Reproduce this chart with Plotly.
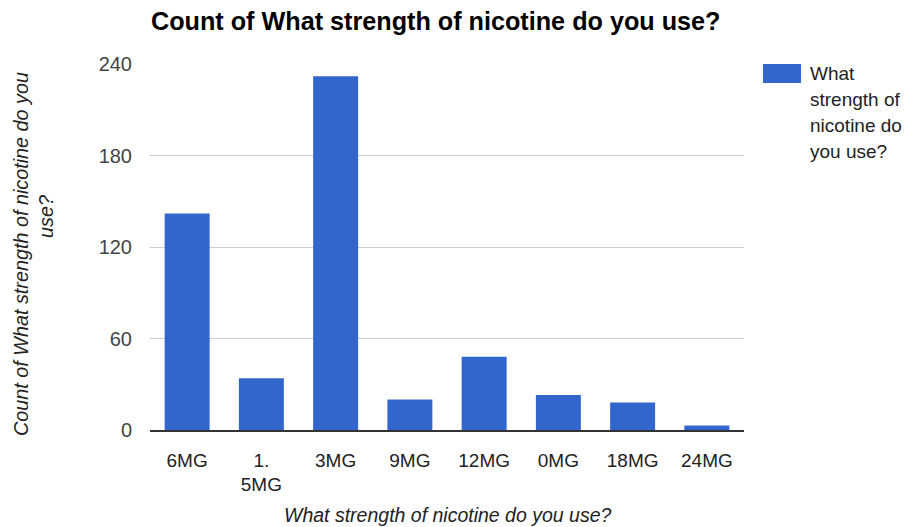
import plotly.graph_objects as go

# Survey answers: nicotine strength and how many respondents chose each
categories = ["6MG", "1.<br>5MG", "3MG", "9MG", "12MG", "0MG", "18MG", "24MG"]
counts = [142, 34, 232, 20, 48, 23, 18, 3]
y_ticks = [0, 60, 120, 180, 240]

series_name_lines = ["What", "strength of", "nicotine do", "you use?"]
title_text = "Count of What strength of nicotine do you use?"
x_title = "What strength of nicotine do you use?"
y_title_lines = ["Count of What strength of nicotine do you", "use?"]

BAR_COLOR = "#3366CC"
FONT = "Liberation Sans, Arial, sans-serif"

W, H = 905, 527
L, R, T, B = 150, 161, 64, 97
plot_w = W - L - R
plot_h = H - T - B


def px_x(px):
    return (px - L) / plot_w


def px_y(py):
    return (H - B - py) / plot_h


fig = go.Figure(
    go.Bar(
        x=categories,
        y=counts,
        marker=dict(color=BAR_COLOR, line=dict(width=0)),
        name="<br>".join(series_name_lines),
        showlegend=False,
    )
)

fig.update_layout(
    width=W,
    height=H,
    margin=dict(l=L, r=R, t=T, b=B, pad=0),
    paper_bgcolor="white",
    plot_bgcolor="white",
    bargap=0.394,
    font=dict(family=FONT, size=19, color="#222"),
    title=dict(
        text=title_text,
        font=dict(family=FONT, size=25.2, color="#000", weight="bold"),
        xref="container",
        yref="container",
        x=151 / W,
        xanchor="left",
        y=1 - 21 / H,
        yanchor="middle",
    ),
)

fig.update_xaxes(
    showgrid=False,
    showline=True,
    linecolor="#333",
    linewidth=1.5,
    ticks="",
    ticklabelstandoff=12,
    tickfont=dict(family=FONT, size=19, color="#222"),
    fixedrange=True,
)

fig.update_yaxes(
    range=[0, 240],
    tickvals=y_ticks,
    showgrid=True,
    gridcolor="#cccccc",
    gridwidth=1,
    zeroline=False,
    showline=False,
    ticks="",
    ticklabelstandoff=17,
    tickfont=dict(family=FONT, size=20, color="#444"),
    fixedrange=True,
)

annotations = []

# x axis title
annotations.append(dict(
    text=f"<i>{x_title}</i>", xref="paper", yref="paper",
    x=px_x(448), y=px_y(515), xanchor="center", yanchor="middle",
    showarrow=False, font=dict(family=FONT, size=19.5, color="#222"),
))

# y axis title, two rotated lines
for line, cx, cy in zip(y_title_lines, [21, 46], [254, 217]):
    annotations.append(dict(
        text=f"<i>{line}</i>", xref="paper", yref="paper",
        x=px_x(cx), y=px_y(cy), xanchor="center", yanchor="middle",
        textangle=-90, showarrow=False,
        font=dict(family=FONT, size=19.8, color="#222"),
    ))

# legend entry: swatch plus wrapped series name
fig.add_shape(
    type="rect", xref="paper", yref="paper",
    x0=px_x(763), x1=px_x(801), y0=px_y(83), y1=px_y(64),
    fillcolor=BAR_COLOR, line=dict(width=0),
)
for i, line in enumerate(series_name_lines):
    annotations.append(dict(
        text=line, xref="paper", yref="paper",
        x=px_x(808), y=px_y(73 + 26.3 * i), xanchor="left", yanchor="middle",
        showarrow=False, font=dict(family=FONT, size=19, color="#222"),
    ))

fig.update_layout(annotations=annotations)

fig.write_html("out.html")
